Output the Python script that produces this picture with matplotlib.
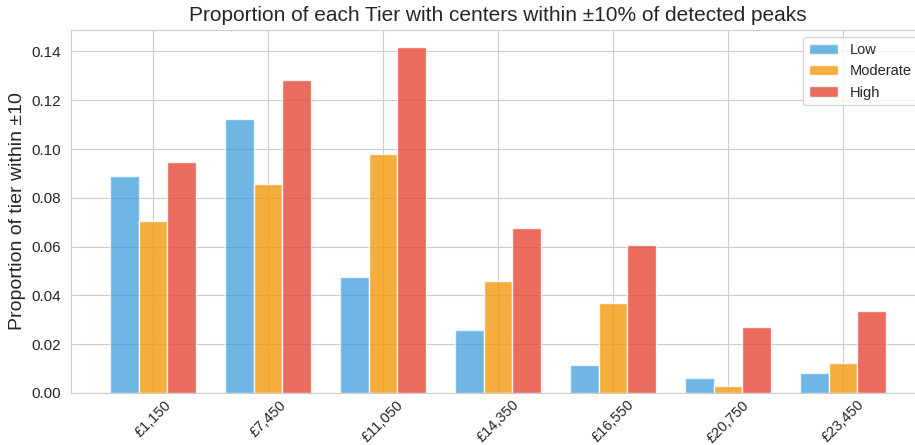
import numpy as np
import matplotlib
matplotlib.use('Agg')
import matplotlib.pyplot as plt
import seaborn as sns

sns.set_style('whitegrid')
plt.rcParams['font.family'] = ['Liberation Sans', 'DejaVu Sans']

# peak centers (labels) and proportion of each tier near them
peaks = ['£1,150', '£7,450', '£11,050', '£14,350', '£16,550', '£20,750', '£23,450']
low = [0.0888, 0.1125, 0.0475, 0.0258, 0.0113, 0.0062, 0.0083]
moderate = [0.0703, 0.0857, 0.0980, 0.0460, 0.0368, 0.0030, 0.0122]
high = [0.0945, 0.1285, 0.1418, 0.0675, 0.0607, 0.0270, 0.0338]

tiers = {'Low': (low, '#3498db'), 'Moderate': (moderate, '#f39c12'), 'High': (high, '#e74c3c')}

fig, ax = plt.subplots(figsize=(9.15, 4.45), dpi=100)
# axes runs a little past the right edge, like the cropped original
fig.subplots_adjust(left=0.0776, right=1.011, top=0.933, bottom=0.117)

x = np.arange(len(peaks))
width = 0.25
for i, (name, (vals, color)) in enumerate(tiers.items()):
    ax.bar(x + (i - 1) * width, vals, width, label=name, color=color,
           alpha=0.7 if name == 'Low' else 0.82, edgecolor='white', linewidth=1)

ax.set_xticks(x)
ax.set_xticklabels(peaks, rotation=45, fontsize=10.5)
ax.tick_params(axis='x', pad=0)
ax.tick_params(axis='y', labelsize=11)
ax.set_ylabel('Proportion of tier within ±10', fontsize=14)
ax.set_title('Proportion of each Tier with centers within ±10% of detected peaks', fontsize=15)
ax.legend(loc='upper right', fontsize=10.5)

plt.savefig('out.png')
